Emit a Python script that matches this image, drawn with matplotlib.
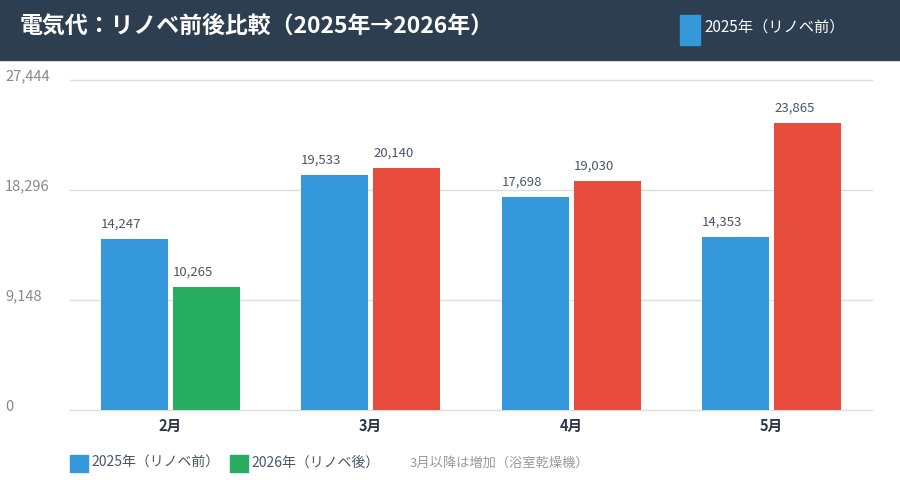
"""
電気代 リノベ前後比較 bar chart
"""
import matplotlib
matplotlib.use('Agg')
import matplotlib.pyplot as plt
from matplotlib.patches import Rectangle
from matplotlib.transforms import blended_transform_factory

plt.rcParams['font.family'] = ['Noto Sans CJK JP', 'DejaVu Sans']

months = ['2月', '3月', '4月', '5月']
before_2025 = [14247, 19533, 17698, 14353]
after_2026 = [10265, 20140, 19030, 23865]
y_ticks = [0, 9148, 18296, 27444]

BLUE = '#3498db'
GREEN = '#27ae60'
RED = '#e74c3c'
HEADER = '#2c3e50'

W, H = 900, 480
fig = plt.figure(figsize=(W / 100, H / 100), dpi=100)

def fx(px):
    return px / W

def fy(py):
    return 1 - py / H

# header band
fig.patches.append(Rectangle((0, fy(60)), 1, 60 / H, transform=fig.transFigure,
                             color=HEADER, zorder=0))
fig.text(fx(20), fy(26), '電気代：リノベ前後比較（2025年→2026年）', color='white',
         fontsize=16.5, fontweight='bold', va='center', ha='left')
fig.patches.append(Rectangle((fx(680), fy(45)), fx(20), 30 / H, transform=fig.transFigure,
                             color=BLUE, zorder=1))
fig.text(fx(704), fy(27), '2025年（リノベ前）', color='white', fontsize=11,
         va='center', ha='left')

ax = fig.add_axes([fx(70), fy(410), fx(802), 330 / H])
x = range(len(months))
bw = 0.335
off = 0.18
colors_after = [GREEN] + [RED] * (len(months) - 1)
b1 = ax.bar([i - off for i in x], before_2025, bw, color=BLUE, zorder=2)
b2 = ax.bar([i + off for i in x], after_2026, bw, color=colors_after, zorder=2)

for bars, vals in ((b1, before_2025), (b2, after_2026)):
    for b, v in zip(bars, vals):
        ax.annotate(f'{v:,}', (b.get_x(), v), xytext=(0, 6), textcoords='offset points',
                    ha='left', va='bottom', fontsize=9.5, color='#4a5568')

ax.set_xlim(-0.5, len(months) - 0.5)
ax.set_ylim(0, y_ticks[-1])
ax.set_yticks(y_ticks)
ax.set_yticklabels([])
ax.tick_params(axis='y', length=0)
ax.yaxis.grid(True, color='#dddddd', linewidth=1, zorder=0)
for gl in ax.get_ygridlines():
    gl.set_clip_on(False)
ax.set_xticks(list(x))
ax.set_xticklabels(months, fontsize=10.5, fontweight='bold', color='#2d3748')
ax.tick_params(axis='x', length=0, pad=6)
for s in ax.spines.values():
    s.set_visible(False)

trans = blended_transform_factory(fig.transFigure, ax.transData)
for t in y_ticks:
    ax.annotate(f'{t:,}', (fx(5), t), xycoords=trans, xytext=(0, 2.5),
                textcoords='offset points', ha='left', va='center',
                fontsize=10.5, color='#888888')

# bottom legend
for px, col, label in ((70, BLUE, '2025年（リノベ前）'), (230, GREEN, '2026年（リノベ後）')):
    fig.patches.append(Rectangle((fx(px), fy(472)), fx(18), 17 / H,
                                 transform=fig.transFigure, color=col))
    fig.text(fx(px + 21), fy(463), label, fontsize=10, color='#4a5568',
             va='center', ha='left')
fig.text(fx(410), fy(463), '3月以降は増加（浴室乾燥機）', fontsize=9.5, color='#999999',
         va='center', ha='left')

fig.savefig('out.png', dpi=100, facecolor='white')
